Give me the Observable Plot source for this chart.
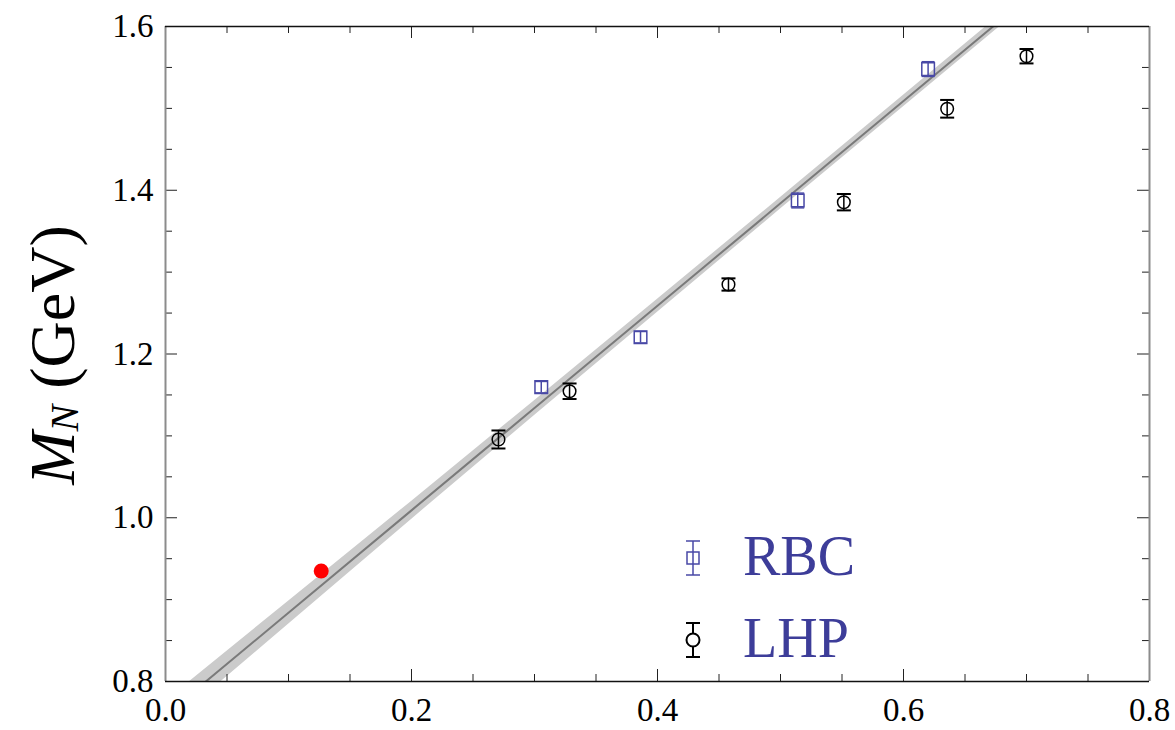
<!DOCTYPE html>
<html>
<head>
<meta charset="utf-8">
<script src="https://cdn.jsdelivr.net/npm/d3@7"></script>
<script src="https://cdn.jsdelivr.net/npm/@observablehq/plot@0.6"></script>
<style>
  html, body { margin: 0; padding: 0; background: white; }
  #chart { position: relative; width: 1175px; height: 730px; }
</style>
</head>
<body>
<div id="chart"></div>
<script>
// ---- Data ----
const rbcX   = [0.3055, 0.3862, 0.514, 0.620];
const rbcY   = [1.1595, 1.2205, 1.3875, 1.548];
const rbcErr = [0.007, 0.007, 0.009, 0.009];

const lhpX   = [0.2707, 0.3285, 0.4577, 0.5515, 0.6355, 0.700];
const lhpY   = [1.0956, 1.1545, 1.2849, 1.3854, 1.4995, 1.5637];
const lhpErr = [0.011, 0.0095, 0.0075, 0.010, 0.0108, 0.0088];

const physX = [0.1266];
const physY = [0.935];

// Fit line and error band
const bandX   = [0.0,   0.1,   0.2,   0.3,   0.4,   0.5,   0.6,   0.7,   0.8];
const bandMid = [0.759, 0.884, 1.009, 1.134, 1.259, 1.384, 1.509, 1.634, 1.758];
const bandLo  = [0.742, 0.870, 0.998, 1.125, 1.251, 1.377, 1.502, 1.627, 1.750];
const bandHi  = [0.776, 0.898, 1.020, 1.143, 1.267, 1.391, 1.516, 1.641, 1.766];

const xDomain = [0, 0.8];
const yDomain = [0.8, 1.6];
const xMajor = [0.0, 0.2, 0.4, 0.6, 0.8];
const yMajor = [0.8, 1.0, 1.2, 1.4, 1.6];
const xMinor = [0.05, 0.1, 0.15, 0.25, 0.3, 0.35, 0.45, 0.5, 0.55, 0.65, 0.7, 0.75];
const yMinor = [0.85, 0.9, 0.95, 1.05, 1.1, 1.15, 1.25, 1.3, 1.35, 1.45, 1.5, 1.55];

const seriesNames = ["RBC", "LHP"];
const yLabelMain = "M";
const yLabelSub = "N";
const yLabelUnit = " (GeV)";

// ---- Tables ----
const rbc = rbcX.map((x, i) => ({x, y: rbcY[i], e: rbcErr[i]}));
const lhp = lhpX.map((x, i) => ({x, y: lhpY[i], e: lhpErr[i]}));
const phys = physX.map((x, i) => ({x, y: physY[i]}));
const band = bandX.map((x, i) => ({x, mid: bandMid[i], lo: bandLo[i], hi: bandHi[i]}));

const blueText = "#3d3d99";
const blueMark = "#4848a6";

const hline = {draw(ctx, size) { const r = Math.sqrt(size / Math.PI); ctx.moveTo(-r, 0); ctx.lineTo(r, 0); }};
const sq = {draw(ctx, size) { const r = Math.sqrt(size / Math.PI); ctx.rect(-r, -r, 2 * r, 2 * r); }};

const W = 1175, H = 730, mL = 165, mR = 26, mT = 26, mB = 49;
const fw = W - mL - mR, fh = H - mT - mB;
const majL = 12, minL = 7;

const plot = Plot.plot({
  width: W, height: H,
  marginLeft: mL, marginRight: mR, marginTop: mT, marginBottom: mB,
  x: {domain: xDomain},
  y: {domain: yDomain},
  style: {fontFamily: "'Liberation Serif', 'DejaVu Serif', serif", fontSize: "33px", background: "white", color: "black"},
  marks: [
    Plot.areaY(band, {x: "x", y1: "lo", y2: "hi", fill: "#cbcbcb", clip: true}),
    Plot.line(band, {x: "x", y: "mid", stroke: "#7a7a7a", strokeWidth: 2, clip: true}),

    // ticks (inward, all four sides)
    Plot.tickX(xMajor, {x: d => d, insetTop: fh - majL, stroke: "#222"}),
    Plot.tickX(xMinor, {x: d => d, insetTop: fh - minL, stroke: "#222"}),
    Plot.tickX(xMajor, {x: d => d, insetBottom: fh - majL, stroke: "#222"}),
    Plot.tickX(xMinor, {x: d => d, insetBottom: fh - minL, stroke: "#222"}),
    Plot.tickY(yMajor, {y: d => d, insetRight: fw - majL, stroke: "#222"}),
    Plot.tickY(yMinor, {y: d => d, insetRight: fw - minL, stroke: "#222"}),
    Plot.tickY(yMajor, {y: d => d, insetLeft: fw - majL, stroke: "#222"}),
    Plot.tickY(yMinor, {y: d => d, insetLeft: fw - minL, stroke: "#222"}),

    // frame
    Plot.ruleX(xDomain, {x: d => d, stroke: "#8c8c8c", strokeWidth: 2}),
    Plot.ruleY(yDomain, {y: d => d, stroke: "#111", strokeWidth: 1.5}),

    // RBC
    Plot.ruleX(rbc, {x: "x", y1: d => d.y - d.e, y2: d => d.y + d.e, stroke: blueMark, strokeWidth: 1.5}),
    Plot.dot(rbc, {x: "x", y: d => d.y - d.e, symbol: hline, r: 6.5, stroke: blueMark, strokeWidth: 1.5}),
    Plot.dot(rbc, {x: "x", y: d => d.y + d.e, symbol: hline, r: 6.5, stroke: blueMark, strokeWidth: 1.5}),
    Plot.dot(rbc, {x: "x", y: "y", symbol: sq, r: 6.3, stroke: blueMark, strokeWidth: 1.5, fill: "none"}),

    // LHP
    Plot.ruleX(lhp, {x: "x", y1: d => d.y - d.e, y2: d => d.y + d.e, stroke: "black", strokeWidth: 1.5}),
    Plot.dot(lhp, {x: "x", y: d => d.y - d.e, symbol: hline, r: 7, stroke: "black", strokeWidth: 2}),
    Plot.dot(lhp, {x: "x", y: d => d.y + d.e, symbol: hline, r: 7, stroke: "black", strokeWidth: 2}),
    Plot.dot(lhp, {x: "x", y: "y", symbol: "circle", r: 6.3, stroke: "black", strokeWidth: 1.5, fill: "none"}),

    // physical point
    Plot.dot(phys, {x: "x", y: "y", r: 7.5, fill: "#ff0000", stroke: "none"}),

    // axes
    Plot.axisX(xMajor, {tickSize: 0, tickPadding: 16, tickFormat: d3.format(".1f"), label: null, fontSize: 33}),
    Plot.axisY(yMajor, {tickSize: 0, tickPadding: 12, tickFormat: d3.format(".1f"), label: null, fontSize: 33})
  ]
});

document.getElementById("chart").appendChild(plot);

// Y axis label with subscript
const svg = d3.select(plot);
const lab = svg.append("text")
  .attr("transform", "translate(74,355) rotate(-90)")
  .attr("text-anchor", "middle")
  .attr("font-family", "'Liberation Serif', serif")
  .attr("font-size", 64)
  .attr("fill", "black");
lab.append("tspan").attr("font-style", "italic").text(yLabelMain);
lab.append("tspan").attr("font-style", "italic").attr("font-size", 40).attr("dy", 4).text(yLabelSub);
lab.append("tspan").attr("dy", -4).text(yLabelUnit);

// Legend
const leg = svg.append("g");
const legendRows = [
  {name: seriesNames[0], color: blueMark, cy: 558, half: 17, shape: "square"},
  {name: seriesNames[1], color: "black", cy: 640, half: 17, shape: "circle"}
];
legendRows.forEach(r => {
  const g = leg.append("g").attr("stroke", r.color).attr("fill", "none").attr("stroke-width", r.shape === "circle" ? 2 : 1.5);
  g.append("line").attr("x1", 693).attr("x2", 693).attr("y1", r.cy - r.half).attr("y2", r.cy + r.half);
  g.append("line").attr("x1", 686).attr("x2", 700).attr("y1", r.cy - r.half).attr("y2", r.cy - r.half);
  g.append("line").attr("x1", 686).attr("x2", 700).attr("y1", r.cy + r.half).attr("y2", r.cy + r.half);
  if (r.shape === "square") g.append("rect").attr("x", 687).attr("y", r.cy - 6).attr("width", 12).attr("height", 12);
  else g.append("circle").attr("cx", 693).attr("cy", r.cy).attr("r", 6.5).attr("fill", "white");
  leg.append("text").attr("x", 743).attr("y", r.cy + 17)
    .attr("text-anchor", "start")
    .attr("font-family", "'Liberation Serif', serif").attr("font-size", 56)
    .attr("fill", blueText).text(r.name);
});
</script>
</body>
</html>
